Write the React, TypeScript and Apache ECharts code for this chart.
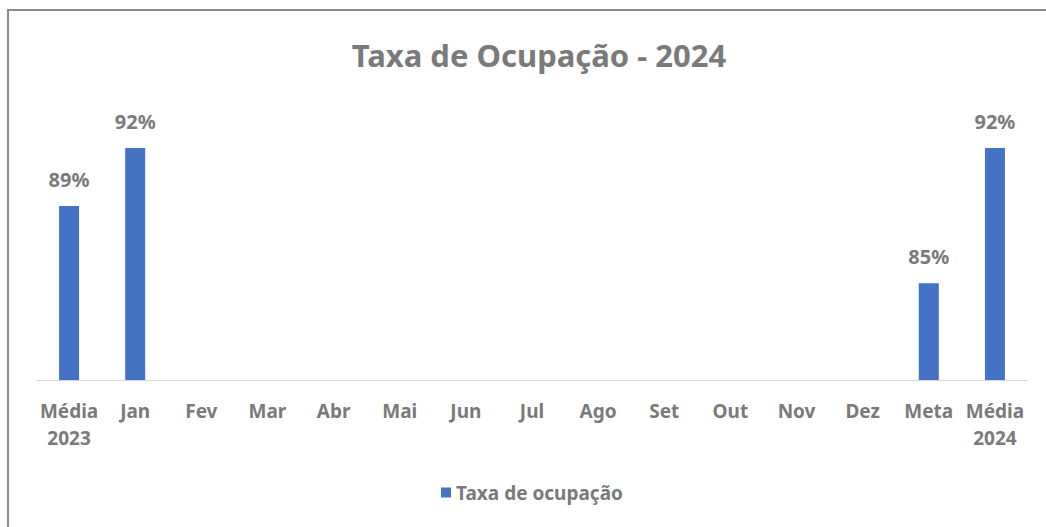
import React, { useEffect, useRef } from "react";
import * as echarts from "echarts";

const categories = ["Média\n2023", "Jan", "Fev", "Mar", "Abr", "Mai", "Jun", "Jul", "Ago", "Set", "Out", "Nov", "Dez", "Meta", "Média\n2024"];
const values: (number | null)[] = [0.89, 0.92, null, null, null, null, null, null, null, null, null, null, null, 0.85, 0.92];
const seriesName = "Taxa de ocupação";
const titleText = "Taxa de Ocupação - 2024";

export default function App() {
  const ref = useRef<HTMLDivElement>(null);
  useEffect(() => {
    if (!ref.current) return;
    const chart = echarts.init(ref.current, undefined, { renderer: "svg" });
    const gray = "#7A7A7A";
    const font = "'Noto Sans', sans-serif";
    chart.setOption({
      animation: false,
      backgroundColor: "#ffffff",
      title: {
        text: titleText,
        left: 534,
        textAlign: "center",
        top: 34,
        textStyle: { color: gray, fontSize: 31, fontWeight: "bold", fontFamily: font },
      },
      legend: {
        data: [seriesName],
        top: 478,
        left: 436,
        itemWidth: 10,
        itemHeight: 10,
        icon: "rect",
        itemGap: 5,
        textStyle: { color: gray, fontSize: 19, fontWeight: "bold", fontFamily: font },
      },
      graphic: [
        {
          type: "rect",
          shape: { x: 8, y: 10, width: 1200, height: 700 },
          style: { fill: "none", stroke: "#8A8A8A", lineWidth: 2 },
          silent: true,
        },
      ],
      grid: { left: 36, right: 18, top: 90, bottom: 147, containLabel: false },
      xAxis: {
        type: "category",
        data: categories,
        axisLine: { show: true, lineStyle: { color: "#D9D9D9", width: 1 } },
        axisTick: { show: false },
        axisLabel: {
          interval: 0,
          color: gray,
          fontSize: 19,
          fontWeight: "bold",
          fontFamily: font,
          lineHeight: 27,
          margin: 17,
        },
      },
      yAxis: {
        type: "value",
        min: 0.8,
        max: 0.95,
        show: false,
        splitLine: { show: false },
      },
      series: [
        {
          name: seriesName,
          type: "bar",
          data: values,
          barWidth: 20,
          itemStyle: { color: "#4472C4" },
          label: {
            show: true,
            position: "top",
            distance: 17,
            color: gray,
            fontSize: 20,
            fontWeight: "bold",
            fontFamily: font,
            formatter: (p: any) => (p.value == null ? "" : Math.round(p.value * 100) + "%"),
          },
        },
      ],
    });
    return () => chart.dispose();
  }, []);
  return (
    <div
      ref={ref}
      style={{ position: "absolute", left: 0, top: 0, width: 1046, height: 527 }}
    />
  );
}
